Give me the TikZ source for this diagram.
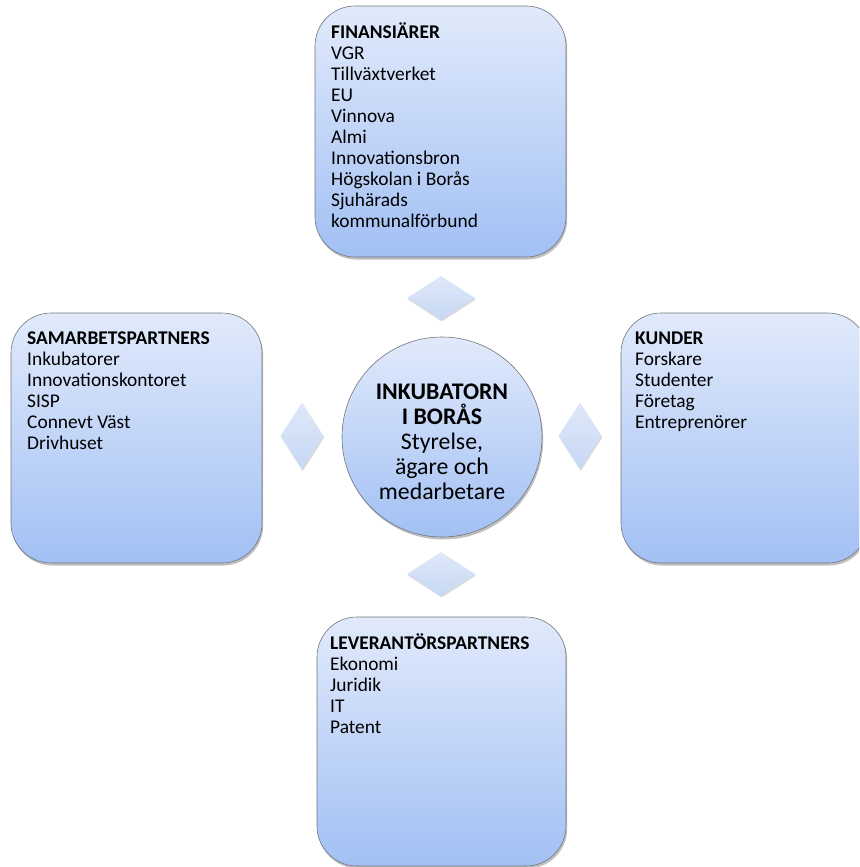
\documentclass[tikz,border=0pt]{standalone}
\usepackage{fontspec}
\setmainfont{Carlito}
\usetikzlibrary{shapes.geometric,shadows}
\definecolor{boxtop}{HTML}{E1EAFB}
\definecolor{boxbot}{HTML}{A2C0F4}
\definecolor{dtop}{HTML}{DFE8F9}
\definecolor{dbot}{HTML}{C6D8F4}
\definecolor{edge}{HTML}{72757D}
\tikzset{
  panel/.style={draw=edge, line width=0.6pt, rounded corners=40pt,
    top color=boxtop, bottom color=boxbot,
    drop shadow={shadow xshift=1.2pt, shadow yshift=-2.5pt, opacity=0.25, fill=black}},
  hub/.style={circle, draw=edge, line width=0.6pt, minimum size=200pt, inner sep=0pt,
    top color=boxtop, bottom color=boxbot,
    drop shadow={shadow xshift=1.2pt, shadow yshift=-2.5pt, opacity=0.25, fill=black}},
  link/.style={diamond, inner sep=0pt, draw=none, top color=dtop, bottom color=dbot,
    drop shadow={shadow xshift=0.8pt, shadow yshift=-1.5pt, opacity=0.15, fill=black}},
  vlink/.style={link, minimum width=68pt, minimum height=44pt},
  hlink/.style={link, minimum width=43pt, minimum height=67pt},
  listtxt/.style={anchor=base west, inner sep=0pt, font=\fontsize{19.4}{21.1}\selectfont},
}
\newcommand{\boxlist}[1]{\begin{tabular}[t]{@{}l@{}}#1\end{tabular}}
\begin{document}
\begin{tikzpicture}[x=1pt,y=-1pt]
\useasboundingbox (0,0) rectangle (859,867);
\begin{scope}
\clip (0,0) rectangle (859,867);
% panels
\path[panel] (315,6) rectangle (566,257);
\path[panel] (11,313) rectangle (262,563);
\path[panel] (621,313) rectangle (868,563);
\path[panel] (317,617) rectangle (566,866);
\end{scope}
% texts
\node[listtxt] (tfin) at (331,38) {\boxlist{\textbf{FINANSIÄRER}\\VGR\\Tillväxtverket\\EU\\Vinnova\\Almi\\Innovationsbron\\Högskolan i Borås\\Sjuhärads\\kommunalförbund}};
\node[listtxt] (tsam) at (27,344) {\boxlist{\textbf{SAMARBETSPARTNERS}\\Inkubatorer\\Innovationskontoret\\SISP\\Connevt Väst\\Drivhuset}};
\node[listtxt] (tkun) at (635,344) {\boxlist{\textbf{KUNDER}\\Forskare\\Studenter\\Företag\\Entreprenörer}};
\node[listtxt] (tlev) at (330,649) {\boxlist{\textbf{LEVERANTÖRSPARTNERS}\\Ekonomi\\Juridik\\IT\\Patent}};
% hub
\node[hub] (hub) at (442,437) {};
\node[align=center, font=\fontsize{23.8}{25}\selectfont, inner sep=0pt] (hubtxt) at (442,442)
  {\textbf{INKUBATORN}\\\textbf{I BORÅS}\\Styrelse,\\ägare och\\medarbetare};
% diamonds
\node[vlink] (dtop) at (441,298) {};
\node[vlink] (dbot) at (441,574) {};
\node[hlink] (dleft) at (302,436) {};
\node[hlink] (dright) at (580,436) {};
\end{tikzpicture}
\end{document}
